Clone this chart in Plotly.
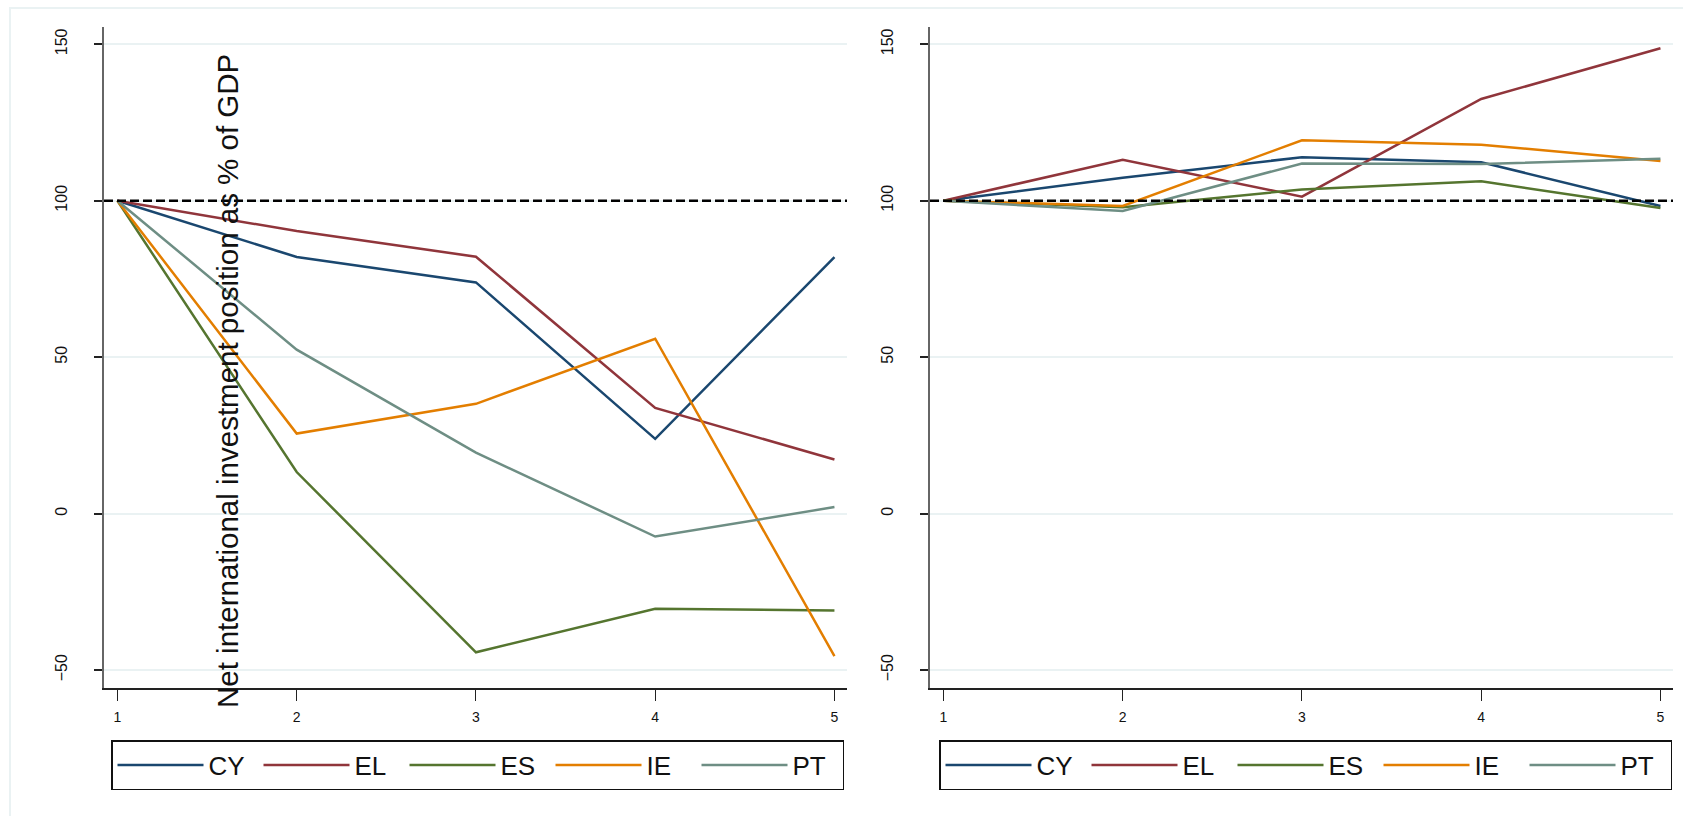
import plotly.graph_objects as go

# Periods on the horizontal axis
periods = [1, 2, 3, 4, 5]
countries = ["CY", "EL", "ES", "IE", "PT"]

# Left panel: net international investment position (% of GDP, base = 100)
left_cy = [100, 82.0, 73.9, 23.9, 82.0]
left_el = [100, 90.3, 82.1, 33.8, 17.3]
left_es = [100, 13.3, -44.3, -30.4, -30.9]
left_ie = [100, 25.6, 35.1, 55.9, -45.5]
left_pt = [100, 52.4, 19.5, -7.3, 2.1]

# Right panel
right_cy = [100, 107.3, 113.9, 112.3, 98.3]
right_el = [100, 113.1, 101.3, 132.5, 148.7]
right_es = [100, 97.9, 103.6, 106.2, 97.7]
right_ie = [100, 98.3, 119.3, 117.9, 112.7]
right_pt = [100, 96.7, 111.9, 111.7, 113.4]

y_ticks = [-50, 0, 50, 100, 150]
reference_level = 100
y_title = "Net international investment position as % of GDP"

colors = ["#1a476f", "#90353b", "#55752f", "#e37e00", "#6e8e84"]

W, H = 1683, 816


def px_x(p):
    return p / W


def px_y(p):
    return 1 - p / H


fig = go.Figure()

left_series = [left_cy, left_el, left_es, left_ie, left_pt]
right_series = [right_cy, right_el, right_es, right_ie, right_pt]

for name, vals, col in zip(countries, left_series, colors):
    fig.add_trace(go.Scatter(
        x=periods, y=vals, mode="lines", name=name,
        line=dict(color=col, width=2.5),
        xaxis="x", yaxis="y", legend="legend",
    ))
for name, vals, col in zip(countries, right_series, colors):
    fig.add_trace(go.Scatter(
        x=periods, y=vals, mode="lines", name=name,
        line=dict(color=col, width=2.5),
        xaxis="x2", yaxis="y2", legend="legend2",
    ))

grid_col = "#eaf2f3"
tick_font = dict(family="Liberation Sans, Arial, sans-serif", size=16, color="#111")
xtick_font = dict(family="Liberation Sans, Arial, sans-serif", size=14, color="#111")

x_range = [0.925, 5.07]
y_range = [-55.7, 155.5]
y_dom = [px_y(688), px_y(27)]

common_x = dict(
    range=x_range, tickvals=periods, ticks="outside", ticklen=11, tickwidth=1.2,
    tickcolor="#222", showline=True, linecolor="#222", linewidth=1.5,
    showgrid=False, zeroline=False, tickfont=xtick_font, ticklabelstandoff=4,
    automargin=False,
)
common_y = dict(
    range=y_range, tickvals=y_ticks, ticks="outside", ticklen=8, tickwidth=1.5,
    tickcolor="#222", showline=True, linecolor="#666", linewidth=1.5,
    showgrid=True, gridcolor=grid_col, gridwidth=2, zeroline=False,
    tickangle=-90, tickfont=tick_font, ticklabelstandoff=21,
    automargin=False,
)

legend_common = dict(
    orientation="h", bgcolor="white", bordercolor="#111", borderwidth=1.5,
    font=dict(family="Liberation Sans, Arial, sans-serif", size=26, color="#111"),
    itemwidth=86, entrywidth=45, entrywidthmode="pixels",
    xanchor="left", yanchor="top", tracegroupgap=0,
    itemclick=False, itemdoubleclick=False,
)

fig.update_layout(
    width=W, height=H, autosize=False,
    margin=dict(l=0, r=0, t=0, b=0, pad=0),
    paper_bgcolor="white", plot_bgcolor="white",
    showlegend=True,
    xaxis=dict(domain=[px_x(104), px_x(847)], anchor="y", **common_x),
    yaxis=dict(domain=y_dom, anchor="x", **common_y),
    xaxis2=dict(domain=[px_x(930), px_x(1673)], anchor="y2", **common_x),
    yaxis2=dict(domain=y_dom, anchor="x2", **common_y),
    legend=dict(x=px_x(111), y=px_y(740), **legend_common),
    legend2=dict(x=px_x(939), y=px_y(740), **legend_common),
)

# Dashed reference line at the base level in each panel
for xr, yr in (("x domain", "y"), ("x2 domain", "y2")):
    fig.add_shape(type="line", xref=xr, yref=yr, x0=0, x1=1,
                  y0=reference_level, y1=reference_level,
                  line=dict(color="black", width=2.5, dash="9px,4px"))

# Light outer frame of the graph region (top and left edges)
fig.add_shape(type="line", xref="paper", yref="paper",
              x0=px_x(9), x1=1, y0=px_y(8), y1=px_y(8),
              line=dict(color=grid_col, width=2), layer="below")
fig.add_shape(type="line", xref="paper", yref="paper",
              x0=px_x(10), x1=px_x(10), y0=0, y1=px_y(8),
              line=dict(color=grid_col, width=2), layer="below")

# Vertical axis title, placed over the left panel
fig.add_annotation(
    text=y_title, xref="paper", yref="paper",
    x=px_x(227), y=px_y(381), xanchor="center", yanchor="middle",
    textangle=-90, showarrow=False,
    font=dict(family="Liberation Sans, Arial, sans-serif", size=29.5, color="#111"),
)

fig.write_html("out.html")
